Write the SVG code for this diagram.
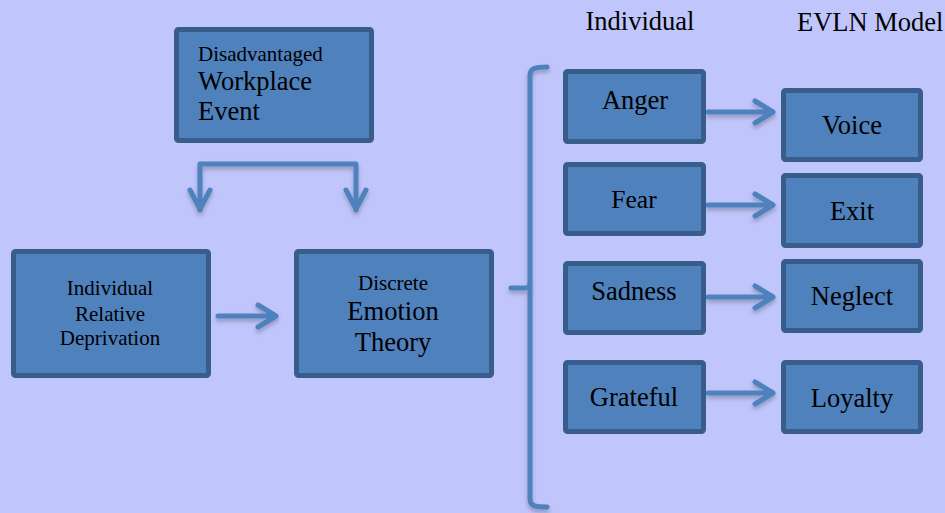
<svg xmlns="http://www.w3.org/2000/svg" width="945" height="513" viewBox="0 0 945 513">
<style>
.box{fill:#4F81BD;stroke:#385D8A;stroke-width:5}
.t{font-family:'Liberation Serif','Times New Roman',Times,serif;fill:#000}
.c{text-anchor:middle}
.s{font-size:21px}
.l{font-size:26.5px}
.con{fill:none;stroke:#4F81BD;stroke-width:5;stroke-linecap:round;stroke-linejoin:round}
</style>
<defs>
<filter id="sh" x="-20%" y="-20%" width="140%" height="160%">
<feDropShadow dx="0" dy="3" stdDeviation="2" flood-color="#000" flood-opacity="0.25"/>
</filter>
</defs>
<rect x="0" y="0" width="945" height="513" fill="#C0C6FC"/>
<text class="t c l" x="640" y="30">Individual</text>
<text class="t l" x="797" y="31">EVLN Model</text>
<g id="connectors" filter="url(#sh)">
<path class="con" d="M200,210 L200,164 L356,164 L356,210"/>
<path class="con" d="M190,190 L200,209 L210,190"/>
<path class="con" d="M346,190 L356,209 L366,190"/>
<path class="con" d="M218,316 L276,316 M258,305 L276,316 L258,327"/>
<path class="con" d="M547,67 C535,67 530,68 530,76 L530,499 C530,506 535,507 547,507" stroke-width="4"/>
<path class="con" d="M511,288 L524,288 C528,288 530,286 530,284" stroke-width="4"/>
<path class="con" d="M708,112 L773,112 M755,101 L773,112 L755,123"/>
<path class="con" d="M708,205 L773,205 M755,194 L773,205 L755,216"/>
<path class="con" d="M708,297 L773,297 M755,286 L773,297 L755,308"/>
<path class="con" d="M708,393 L773,393 M755,382 L773,393 L755,404"/>
</g>
<g id="dwe">
<rect class="box" x="176.5" y="29.5" width="195" height="111" rx="2"/>
<text class="t s" x="198" y="61">Disadvantaged</text>
<text class="t l" x="198" y="90">Workplace</text>
<text class="t l" x="198" y="120">Event</text>
</g>
<g id="ird">
<rect class="box" x="13.5" y="251.5" width="195" height="124" rx="2"/>
<text class="t c s" x="110" y="295">Individual</text>
<text class="t c s" x="110" y="321">Relative</text>
<text class="t c s" x="110" y="345">Deprivation</text>
</g>
<g id="det">
<rect class="box" x="296.5" y="251.5" width="195" height="124" rx="2"/>
<text class="t c s" x="393" y="290">Discrete</text>
<text class="t c l" x="393" y="320">Emotion</text>
<text class="t c l" x="393" y="351">Theory</text>
</g>
<g id="anger">
<rect class="box" x="565.5" y="71.5" width="138" height="70" rx="2"/>
<text class="t c l" x="635" y="109">Anger</text>
</g>
<g id="fear">
<rect class="box" x="565.5" y="164.5" width="138" height="69" rx="2"/>
<text class="t c" x="634" y="208" font-size="25.5">Fear</text>
</g>
<g id="sadness">
<rect class="box" x="565.5" y="263.5" width="138" height="69" rx="2"/>
<text class="t c l" x="634" y="300">Sadness</text>
</g>
<g id="grateful">
<rect class="box" x="565.5" y="362.5" width="138" height="69" rx="2"/>
<text class="t c l" x="634" y="406">Grateful</text>
</g>
<g id="voice">
<rect class="box" x="783.5" y="90.5" width="137" height="69" rx="2"/>
<text class="t c l" x="852" y="134">Voice</text>
</g>
<g id="exit">
<rect class="box" x="783.5" y="175.5" width="137" height="70" rx="2"/>
<text class="t c l" x="852" y="220">Exit</text>
</g>
<g id="neglect">
<rect class="box" x="783.5" y="261.5" width="137" height="69" rx="2"/>
<text class="t c l" x="852" y="305">Neglect</text>
</g>
<g id="loyalty">
<rect class="box" x="783.5" y="362.5" width="137" height="69" rx="2"/>
<text class="t c l" x="852" y="407">Loyalty</text>
</g>
</svg>
